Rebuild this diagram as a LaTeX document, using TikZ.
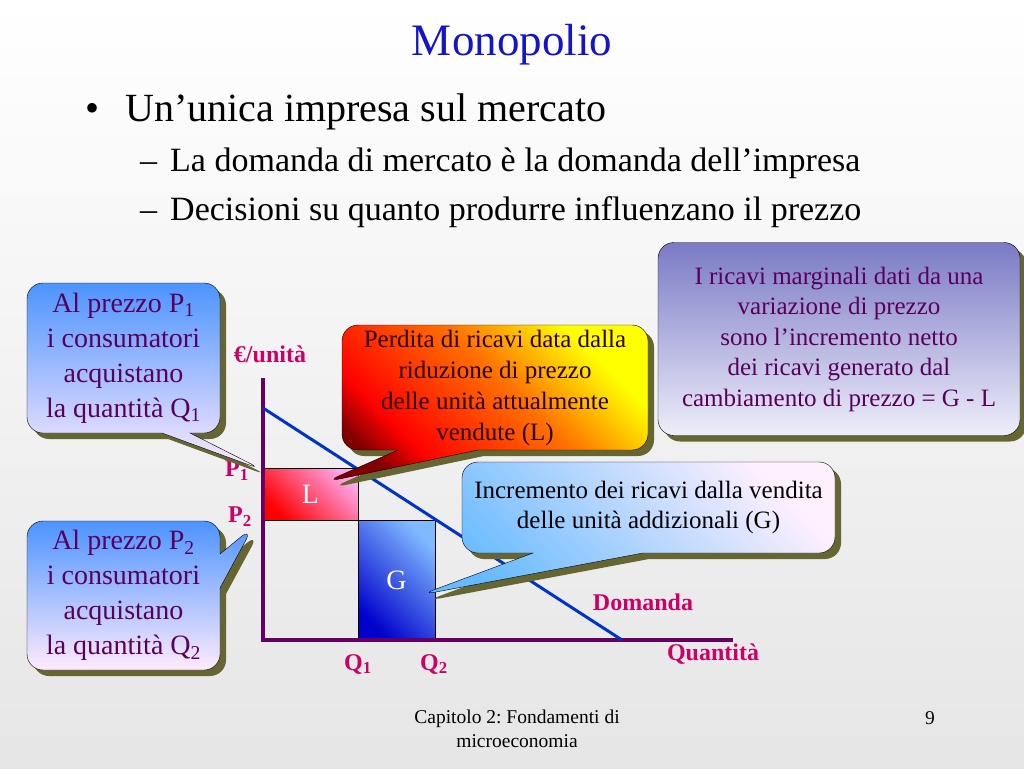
\documentclass[tikz,border=0pt]{standalone}
\usepackage{fontspec}
\setmainfont{Liberation Serif}
\usetikzlibrary{shapes.callouts,shadows}
\frenchspacing

\definecolor{titleblue}{RGB}{20,20,205}
\definecolor{axispurple}{RGB}{102,0,102}
\definecolor{labelred}{RGB}{204,0,102}
\definecolor{shadowolive}{RGB}{102,102,51}
\definecolor{demandblue}{RGB}{0,51,204}
\definecolor{boxtext}{RGB}{90,0,90}
\definecolor{losstext}{RGB}{40,0,0}
\definecolor{mrtop}{RGB}{122,122,198}
\definecolor{mrbot}{RGB}{238,238,250}

\pgfdeclareverticalshading{lossshade}{100bp}{color(0bp)=(red!50!black); color(25bp)=(red!50!black);
  color(33bp)=(red); color(43bp)=(red!80!yellow); color(56bp)=(red!55!yellow);
  color(73bp)=(yellow); color(100bp)=(yellow)}

\tikzset{
  roundbox/.style={rectangle, rounded corners=16pt, draw=black, thin,
    align=center, inner sep=0pt,
    drop shadow={shadow xshift=6pt, shadow yshift=-6pt, fill=shadowolive, opacity=1}},
  callbox/.style={roundbox, rectangle callout},
  lab/.style={font=\fontsize{24}{24}\selectfont\bfseries, text=labelred},
  area/.style={draw=black, thin, inner sep=0pt, text=white,
    font=\fontsize{28}{28}\selectfont},
}

\begin{document}
\begin{tikzpicture}[x=1pt, y=-1pt]
  \useasboundingbox (0,0) rectangle (1024,768);
  \shade[top color=white, bottom color=gray!20] (0,0) rectangle (1024,768);

  % title and bullets
  \node[anchor=base, text=titleblue, font=\fontsize{45}{45}\selectfont] (title) at (512,56) {Monopolio};
  \node[anchor=base west, font=\fontsize{40}{40}\selectfont, inner sep=0pt] (b1) at (85,121) {•};
  \node[anchor=base west, font=\fontsize{40}{40}\selectfont, inner sep=0pt] (t1) at (125,121) {Un’unica impresa sul mercato};
  \node[anchor=base west, font=\fontsize{34}{34}\selectfont, inner sep=0pt] (b2) at (140,171) {–};
  \node[anchor=base west, font=\fontsize{34}{34}\selectfont, inner sep=0pt] (t2) at (170,171) {La domanda di mercato è la domanda dell’impresa};
  \node[anchor=base west, font=\fontsize{34}{34}\selectfont, inner sep=0pt] (b3) at (140,220) {–};
  \node[anchor=base west, font=\fontsize{34}{34}\selectfont, inner sep=0pt] (t3) at (170,220) {Decisioni su quanto produrre influenzano il prezzo};

  % chart
  \coordinate (O) at (263,640);
  \coordinate (ytop) at (263,378);
  \coordinate (xend) at (733,640);
  \coordinate (dtop) at (263,408);
  \coordinate (dbot) at (622,640);
  \node[area, minimum width=95pt, minimum height=52pt,
    left color=red, right color=red!25!magenta!35!white, shading angle=135] (L) at (310.5,494) {L};
  \node[area, minimum width=77pt, minimum height=120pt,
    left color=blue!80!black, right color=blue!55!cyan!50!white, shading angle=135] (G) at (396.5,580) {G};
  \draw[axispurple, line width=4pt] (ytop) -- (O) -- (xend);
  \draw[demandblue, line width=3pt] (dtop) -- (dbot);

  \node[lab] (eur) at (270,354) {€/unità};
  \node[lab] (p1) at (237,471) {P\textsubscript{1}};
  \node[lab] (p2) at (240,517) {P\textsubscript{2}};
  \node[lab] (q1) at (358,664) {Q\textsubscript{1}};
  \node[lab] (q2) at (434,664) {Q\textsubscript{2}};
  \node[lab] (dem) at (643,602) {Domanda};
  \node[lab] (qty) at (713,654) {Quantità};

  % callouts
  \coordinate (ptP1) at (263,470);
  \coordinate (ptP2) at (253,527);
  \coordinate (ptL) at (325,482);
  \coordinate (ptG) at (420,595);

  \node[roundbox, minimum width=362pt, minimum height=193pt, text=boxtext,
    top color=mrtop, bottom color=mrbot,
    font=\fontsize{25}{30.5}\selectfont] (mr) at (839,339)
    {I ricavi marginali dati da una\\variazione di prezzo\\sono l’incremento netto\\dei ricavi generato dal\\cambiamento di prezzo = G - L};
  \node[callbox, minimum width=193pt, minimum height=150pt, text=boxtext,
    top color=blue!60!cyan!70!white, bottom color=magenta!8!white,
    callout absolute pointer={(ptP1)}, callout pointer width=28pt,
    font=\fontsize{28}{35}\selectfont] (c1) at (123.5,358)
    {Al prezzo P\textsubscript{1}\\i consumatori\\acquistano\\la quantità Q\textsubscript{1}};
  \node[callbox, minimum width=193pt, minimum height=149pt, text=boxtext,
    top color=blue!60!cyan!70!white, bottom color=magenta!8!white,
    callout absolute pointer={(ptP2)}, callout pointer width=34pt,
    font=\fontsize{28}{35}\selectfont] (c2) at (123.5,595.5)
    {Al prezzo P\textsubscript{2}\\i consumatori\\acquistano\\la quantità Q\textsubscript{2}};
  \node[callbox, minimum width=306pt, minimum height=125pt, text=losstext,
    shading=lossshade, shading angle=-45,
    callout absolute pointer={(ptL)}, callout pointer width=80pt,
    font=\fontsize{25}{31}\selectfont] (loss) at (495,387.5)
    {Perdita di ricavi data dalla\\riduzione di prezzo\\delle unità attualmente\\vendute (L)};
  \node[callbox, minimum width=373pt, minimum height=91pt, text=black,
    left color=blue!45!cyan!60!white, right color=magenta!6!white, shading angle=135,
    callout absolute pointer={(ptG)}, callout pointer width=110pt,
    font=\fontsize{25}{30}\selectfont] (gain) at (648.5,507.5)
    {Incremento dei ricavi dalla vendita\\delle unità addizionali (G)};

  % footer
  \node[anchor=base, font=\fontsize{19.5}{24}\selectfont, align=center] (foot) at (517,747)
    {Capitolo 2: Fondamenti di\\microeconomia};
  \node[anchor=base, font=\fontsize{19.5}{19.5}\selectfont] (page) at (930,724) {9};
\end{tikzpicture}
\end{document}
